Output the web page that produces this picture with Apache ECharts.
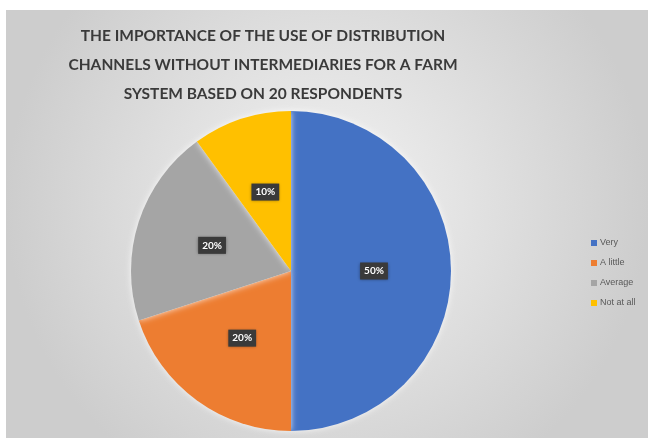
<!DOCTYPE html>
<html>
<head>
<meta charset="utf-8">
<script src="https://cdn.jsdelivr.net/npm/echarts@6/dist/echarts.min.js"></script>
<style>
html, body { margin: 0; padding: 0; background: #fff; }
#chart { width: 648px; height: 438px; }
</style>
</head>
<body>
<div id="chart"></div>
<script>
// chart data
var titleText = 'THE IMPORTANCE OF THE USE OF DISTRIBUTION\nCHANNELS WITHOUT INTERMEDIARIES FOR A FARM\nSYSTEM BASED ON 20 RESPONDENTS';
var categories = ['Very', 'A little', 'Average', 'Not at all'];
var shares = [50, 20, 20, 10];
var colors = ['#4472c4', '#ed7d31', '#a5a5a5', '#ffc000'];

var myChart = echarts.init(document.getElementById('chart'));

var pieData = categories.map(function(name, i) {
	return { name: name, value: shares[i], itemStyle: { color: colors[i] } };
});

var option = {
	animation: false,
	graphic: [{
		type: 'rect',
		z: -10,
		shape: { x: 6, y: 10, width: 642, height: 428 },
		style: {
			fill: {
				type: 'radial',
				x: 0.5, y: 0.45, r: 0.75,
				colorStops: [
					{ offset: 0, color: '#f3f3f3' },
					{ offset: 1, color: '#cdcdcd' }
				]
			}
		}
	}],
	title: {
		text: titleText,
		left: 258,
		textAlign: 'center',
		top: 16,
		textStyle: {
			fontFamily: 'Lato',
			fontWeight: 'bold',
			fontSize: 15.5,
			lineHeight: 29,
			color: '#3a3a3a'
		}
	},
	legend: {
		orient: 'vertical',
		left: 586,
		top: 233,
		itemWidth: 6,
		itemHeight: 6,
		itemGap: 10,
		icon: 'rect',
		data: categories,
		textStyle: {
			fontFamily: 'Liberation Sans',
			fontSize: 9,
			lineHeight: 10,
			color: '#595959',
			padding: [0, 0, 0, -2]
		}
	},
	series: [{
		type: 'pie',
		center: [291, 271],
		radius: 160,
		startAngle: 90,
		clockwise: true,
		data: pieData,
		itemStyle: {
			shadowBlur: 6,
			shadowColor: 'rgba(255,255,255,0.8)'
		},
		label: {
			show: true,
			position: 'inside',
			formatter: '{d}%',
			fontFamily: 'Lato',
			fontWeight: 'bold',
			fontSize: 10,
			color: '#ffffff',
			backgroundColor: '#3a3a3a',
			padding: [4, 4, 3, 4],
			shadowBlur: 3,
			shadowColor: 'rgba(0,0,0,0.4)'
		},
		labelLine: { show: false },
		emphasis: { disabled: true }
	}]
};
myChart.setOption(option);
</script>
</body>
</html>
